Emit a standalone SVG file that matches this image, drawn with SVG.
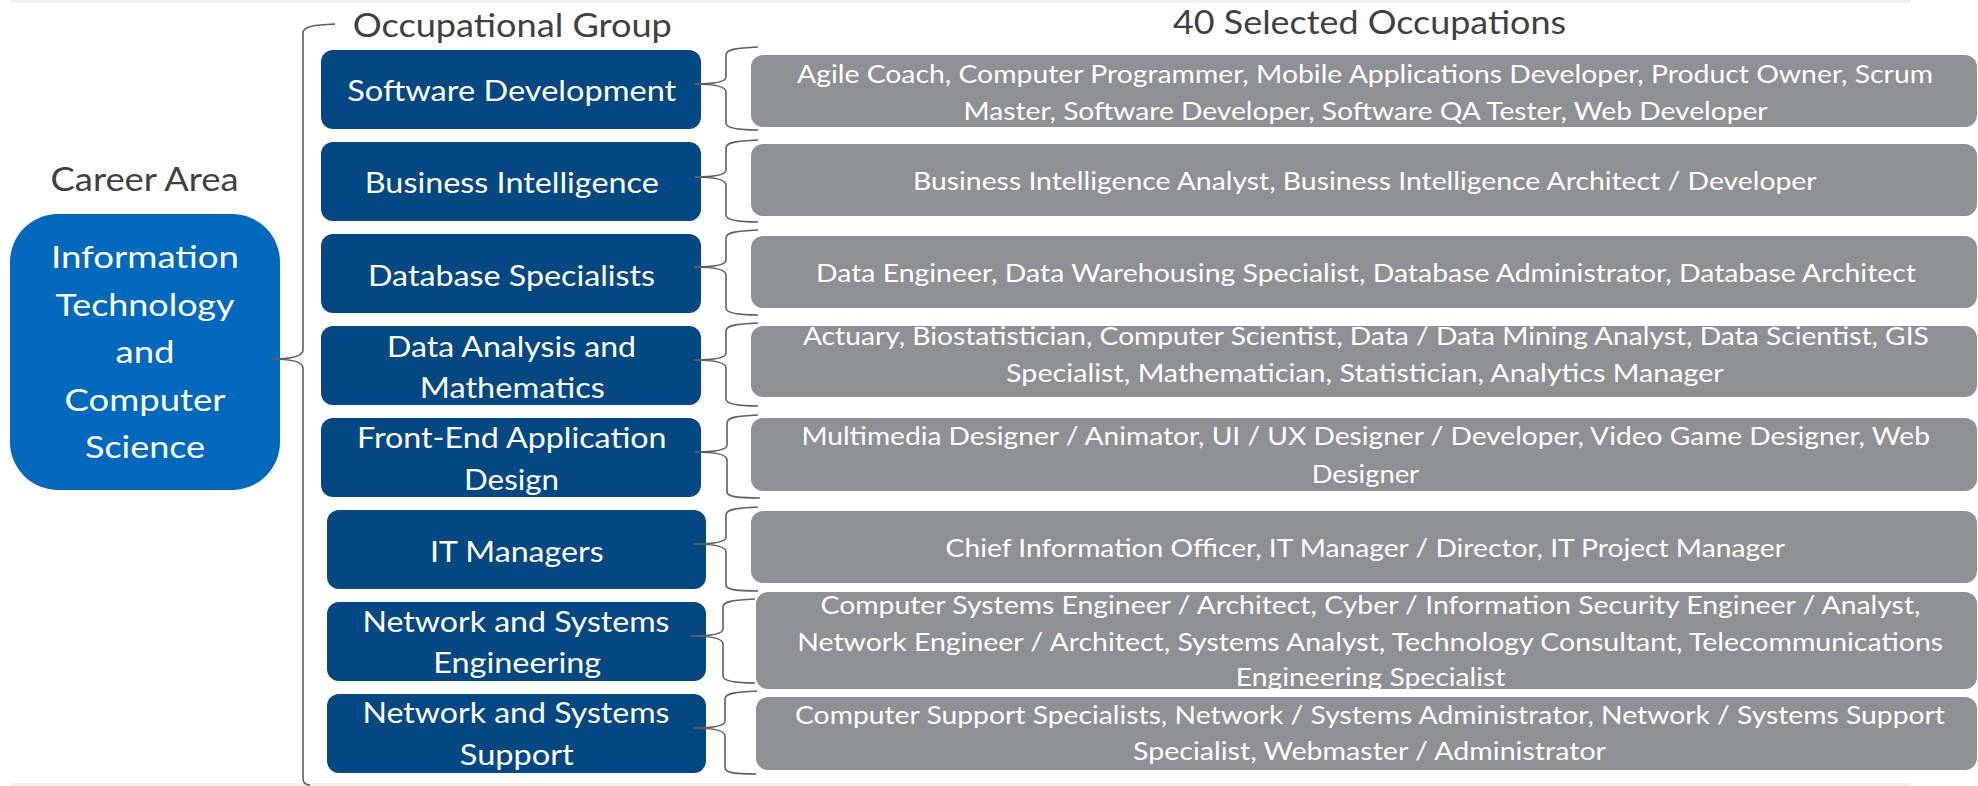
<svg xmlns="http://www.w3.org/2000/svg" width="1978" height="786" viewBox="0 0 1978 786">
<style>
.hdr{font-family:Lato,"Liberation Sans",sans-serif;font-size:32px;fill:#404040;text-anchor:middle}
.career{fill:#0069BE}
.grp{fill:#034882}
.occ{fill:#8F9094}
.ct{font-family:Lato,"Liberation Sans",sans-serif;font-size:30px;fill:#ffffff;text-anchor:middle}
.gt{font-family:Lato,"Liberation Sans",sans-serif;font-size:29px;fill:#ffffff;text-anchor:middle}
.ot{font-family:Lato,"Liberation Sans",sans-serif;font-size:25.5px;fill:#ffffff;text-anchor:middle}
.brace{fill:none;stroke:#5f5f5f;stroke-width:1.6}
.band{fill:#F2EFEF}
</style>
<rect x="0" y="0" width="1978" height="786" fill="#ffffff"/>
<rect class="band" x="10" y="0" width="1901" height="3"/>
<rect class="band" x="10" y="783" width="1901" height="3"/>

<g id="headers">
<text class="hdr" x="144.6" y="190.7" textLength="188" lengthAdjust="spacingAndGlyphs">Career Area</text>
<text class="hdr" x="512.3" y="37.3" textLength="319" lengthAdjust="spacingAndGlyphs">Occupational Group</text>
<text class="hdr" x="1369.5" y="34" textLength="393" lengthAdjust="spacingAndGlyphs">40 Selected Occupations</text>
</g>

<g id="career-area">
<rect class="career" x="10" y="214" width="270" height="276" rx="48" ry="48"/>
<text class="ct" x="145" y="268.3" textLength="188" lengthAdjust="spacingAndGlyphs">Information</text>
<text class="ct" x="145" y="315.5" textLength="179" lengthAdjust="spacingAndGlyphs">Technology</text>
<text class="ct" x="145" y="363.3" textLength="59" lengthAdjust="spacingAndGlyphs">and</text>
<text class="ct" x="145" y="411" textLength="161" lengthAdjust="spacingAndGlyphs">Computer</text>
<text class="ct" x="145" y="458.3" textLength="120" lengthAdjust="spacingAndGlyphs">Science</text>
</g>

<g id="group-software-development">
<rect class="grp" x="321" y="50" width="380" height="79" rx="12"/>
<text class="gt" x="511.8" y="100.7" textLength="329" lengthAdjust="spacingAndGlyphs">Software Development</text>
</g>
<g id="group-business-intelligence">
<rect class="grp" x="321" y="142" width="380" height="79" rx="12"/>
<text class="gt" x="511.8" y="193.3" textLength="294" lengthAdjust="spacingAndGlyphs">Business Intelligence</text>
</g>
<g id="group-database-specialists">
<rect class="grp" x="321" y="234" width="380" height="79" rx="12"/>
<text class="gt" x="511.5" y="285.7" textLength="287" lengthAdjust="spacingAndGlyphs">Database Specialists</text>
</g>
<g id="group-data-analysis">
<rect class="grp" x="321" y="326" width="380" height="79" rx="12"/>
<text class="gt" x="511.5" y="356.7" textLength="249" lengthAdjust="spacingAndGlyphs">Data Analysis and</text>
<text class="gt" x="512.3" y="398.4" textLength="185" lengthAdjust="spacingAndGlyphs">Mathematics</text>
</g>
<g id="group-front-end">
<rect class="grp" x="321" y="418" width="380" height="79" rx="12"/>
<text class="gt" x="511.8" y="448.3" textLength="309.5" lengthAdjust="spacingAndGlyphs">Front-End Application</text>
<text class="gt" x="511.5" y="490" textLength="95" lengthAdjust="spacingAndGlyphs">Design</text>
</g>
<g id="group-it-managers">
<rect class="grp" x="327" y="510" width="379" height="79" rx="12"/>
<text class="gt" x="516.8" y="561.7" textLength="173.6" lengthAdjust="spacingAndGlyphs">IT Managers</text>
</g>
<g id="group-network-engineering">
<rect class="grp" x="327" y="602" width="379" height="79" rx="12"/>
<text class="gt" x="516" y="631.7" textLength="307" lengthAdjust="spacingAndGlyphs">Network and Systems</text>
<text class="gt" x="517.2" y="672.7" textLength="168" lengthAdjust="spacingAndGlyphs">Engineering</text>
</g>
<g id="group-network-support">
<rect class="grp" x="327" y="694" width="379" height="79" rx="12"/>
<text class="gt" x="516" y="723.3" textLength="307" lengthAdjust="spacingAndGlyphs">Network and Systems</text>
<text class="gt" x="516.8" y="765" textLength="114" lengthAdjust="spacingAndGlyphs">Support</text>
</g>

<g id="occ-software-development">
<rect class="occ" x="751" y="55" width="1226" height="72" rx="12"/>
<text class="ot" x="1365" y="83.3" textLength="1136" lengthAdjust="spacingAndGlyphs">Agile Coach, Computer Programmer, Mobile Applications Developer, Product Owner, Scrum</text>
<text class="ot" x="1365.6" y="120" textLength="804" lengthAdjust="spacingAndGlyphs">Master, Software Developer, Software QA Tester, Web Developer</text>
</g>
<g id="occ-business-intelligence">
<rect class="occ" x="751" y="144" width="1226" height="72" rx="12"/>
<text class="ot" x="1364.8" y="190" textLength="903.6" lengthAdjust="spacingAndGlyphs">Business Intelligence Analyst, Business Intelligence Architect / Developer</text>
</g>
<g id="occ-database-specialists">
<rect class="occ" x="751" y="236" width="1226" height="72" rx="12"/>
<text class="ot" x="1366" y="281.7" textLength="1100" lengthAdjust="spacingAndGlyphs">Data Engineer, Data Warehousing Specialist, Database Administrator, Database Architect</text>
</g>
<g id="occ-data-analysis">
<rect class="occ" x="751" y="326" width="1226" height="71" rx="12"/>
<text class="ot" x="1365.9" y="345" textLength="1126" lengthAdjust="spacingAndGlyphs">Actuary, Biostatistician, Computer Scientist, Data / Data Mining Analyst, Data Scientist, GIS</text>
<text class="ot" x="1364.9" y="381.7" textLength="717.7" lengthAdjust="spacingAndGlyphs">Specialist, Mathematician, Statistician, Analytics Manager</text>
</g>
<g id="occ-front-end">
<rect class="occ" x="751" y="418" width="1226" height="73" rx="12"/>
<text class="ot" x="1365.7" y="445" textLength="1128.6" lengthAdjust="spacingAndGlyphs">Multimedia Designer / Animator, UI / UX Designer / Developer, Video Game Designer, Web</text>
<text class="ot" x="1365.4" y="482.5" textLength="107.3" lengthAdjust="spacingAndGlyphs">Designer</text>
</g>
<g id="occ-it-managers">
<rect class="occ" x="751" y="511" width="1226" height="72" rx="12"/>
<text class="ot" x="1365.3" y="556.7" textLength="839.4" lengthAdjust="spacingAndGlyphs">Chief Information Officer, IT Manager / Director, IT Project Manager</text>
</g>
<g id="occ-network-engineering">
<rect class="occ" x="756" y="592" width="1221" height="97" rx="12"/>
<text class="ot" x="1370.5" y="614" textLength="1100" lengthAdjust="spacingAndGlyphs">Computer Systems Engineer / Architect, Cyber / Information Security Engineer / Analyst,</text>
<text class="ot" x="1370.2" y="650.5" textLength="1146" lengthAdjust="spacingAndGlyphs">Network Engineer / Architect, Systems Analyst, Technology Consultant, Telecommunications</text>
<text class="ot" x="1370.6" y="686" textLength="269.6" lengthAdjust="spacingAndGlyphs">Engineering Specialist</text>
</g>
<g id="occ-network-support">
<rect class="occ" x="756" y="697" width="1221" height="73" rx="12"/>
<text class="ot" x="1370" y="724" textLength="1150" lengthAdjust="spacingAndGlyphs">Computer Support Specialists, Network / Systems Administrator, Network / Systems Support</text>
<text class="ot" x="1369.5" y="760" textLength="473" lengthAdjust="spacingAndGlyphs">Specialist, Webmaster / Administrator</text>
</g>

<g id="connectors">
<path class="brace" d="M335,24 C315,25 303,26 303,33 L303,350 C303,356 294,359 271,359 C294,359 303,362 303,368 L303,778 C303,783 305,785 310,785"/>
<path class="brace" d="M758,47 C738,48 726,49 726,55 L726,77 C726,82 714,84 694,84 C714,84 726,86 726,92 L726,123 C726,128 738,130 758,130"/>
<path class="brace" d="M758,140 C738,141 726,142 726,148 L726,170 C726,175 714,177 694,177 C714,177 726,179 726,185 L726,215 C726,220 738,222 758,222"/>
<path class="brace" d="M758,230 C738,231 726,232 726,238 L726,260 C726,265 714,267 694,267 C714,267 726,269 726,275 L726,308 C726,313 738,315 758,315"/>
<path class="brace" d="M758,323 C738,324 726,325 726,331 L726,353 C726,358 714,360 694,360 C714,360 726,362 726,368 L726,399 C726,404 738,406 758,406"/>
<path class="brace" d="M758,415 C738,416 727,417 727,423 L727,445 C727,450 715,452 695,452 C715,452 727,454 727,460 L727,492 C727,497 739,498 760,498"/>
<path class="brace" d="M758,507 C738,508 726,509 726,515 L726,537 C726,542 714,544 694,544 C714,544 726,546 726,552 L726,585 C726,590 738,591 758,591"/>
<path class="brace" d="M755,599 C735,600 723,601 723,607 L723,629 C723,634 711,636 691,636 C711,636 723,638 723,644 L723,676 C723,681 735,683 755,683"/>
<path class="brace" d="M757,691 C737,692 725,693 725,699 L725,721 C725,726 713,728 693,728 C713,728 725,730 725,736 L725,768 C725,773 737,774 756,774"/>
</g>
</svg>
